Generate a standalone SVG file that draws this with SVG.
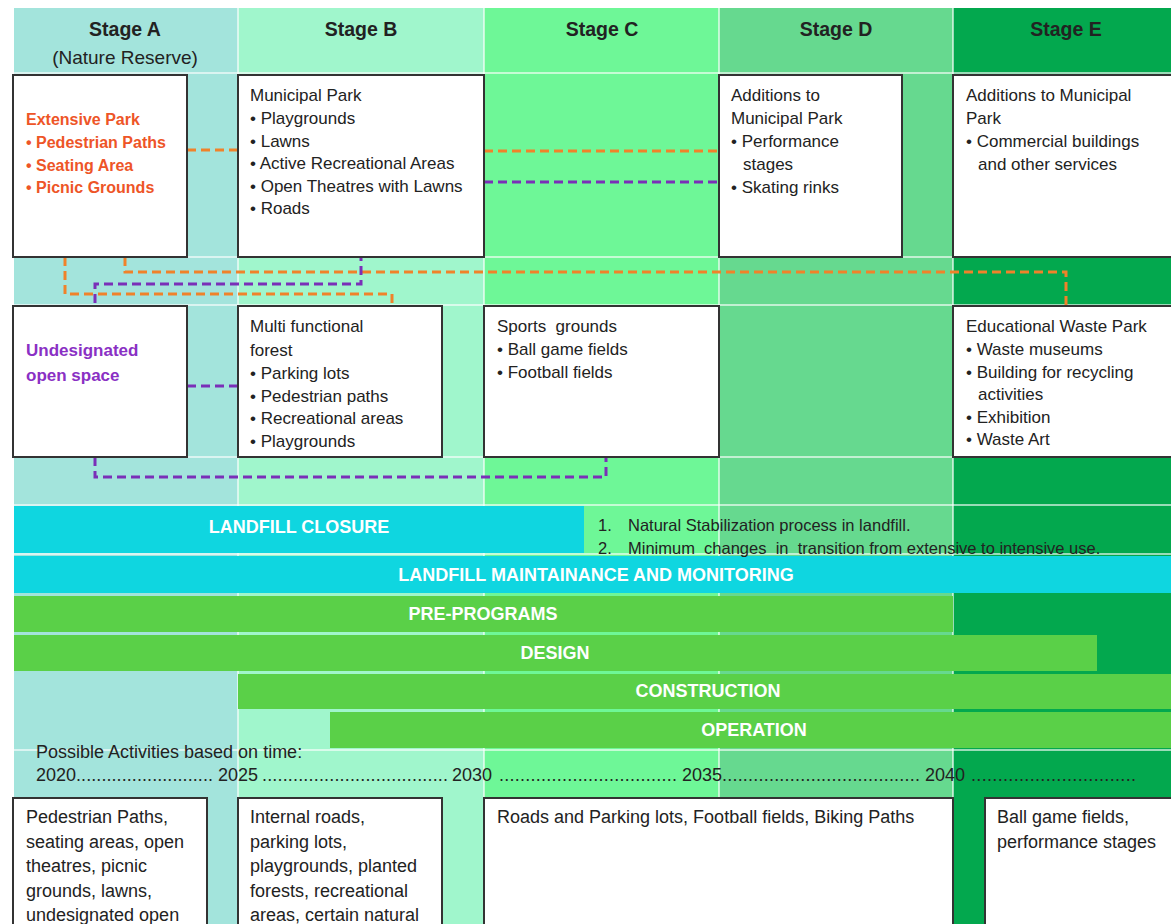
<svg xmlns="http://www.w3.org/2000/svg" width="1171" height="924" viewBox="0 0 1171 924">
<style>
text{font-family:"Liberation Sans",Arial,sans-serif;fill:#222}
.hd{font-size:19.5px;font-weight:bold;text-anchor:middle}
.sub{font-size:19px;text-anchor:middle}
.t{font-size:17px}
.ob{font-size:16px;font-weight:bold;fill:#ee5527}
.pb{font-size:17px;font-weight:bold;fill:#8a30c4}
.bar{font-size:18px;font-weight:bold;fill:#fff;text-anchor:middle}
.note{font-size:16.5px}
.tl{font-size:18px}
.bt{font-size:18px}
.box{fill:#fff;stroke:#333;stroke-width:2}
.sep{stroke:#fff;stroke-opacity:0.6;stroke-width:2}
.or{fill:none;stroke:#f0822a;stroke-width:3;stroke-dasharray:9 5}
.pu{fill:none;stroke:#7a2fb8;stroke-width:3;stroke-dasharray:9 5}
.cy{fill:#0fd6e0}
.gr{fill:#5ad048}
</style>
<rect x="0" y="0" width="1171" height="924" fill="#fff"/>
<g id="columns">
<rect x="14" y="8" width="224" height="916" fill="#a3e4dc"/>
<rect x="238" y="8" width="246" height="916" fill="#a0f6cc"/>
<rect x="484" y="8" width="235" height="916" fill="#6ef797"/>
<rect x="719" y="8" width="234" height="916" fill="#66d98f"/>
<rect x="953" y="8" width="218" height="916" fill="#03a84e"/>
<line class="sep" x1="238" y1="8" x2="238" y2="924"/>
<line class="sep" x1="484" y1="8" x2="484" y2="924"/>
<line class="sep" x1="719" y1="8" x2="719" y2="924"/>
<line class="sep" x1="953" y1="8" x2="953" y2="924"/>
<line class="sep" x1="14" y1="73" x2="1171" y2="73"/>
<line class="sep" x1="14" y1="257" x2="1171" y2="257"/>
<line class="sep" x1="14" y1="305" x2="1171" y2="305"/>
<line class="sep" x1="14" y1="457" x2="1171" y2="457"/>
<line class="sep" x1="14" y1="505" x2="1171" y2="505"/>
<line class="sep" x1="14" y1="554" x2="1171" y2="554"/>
<line class="sep" x1="14" y1="750" x2="1171" y2="750"/>
</g>
<g id="headers">
<text class="hd" x="125" y="36">Stage A</text>
<text class="sub" x="125" y="64">(Nature Reserve)</text>
<text class="hd" x="361" y="36">Stage B</text>
<text class="hd" x="602" y="36">Stage C</text>
<text class="hd" x="836" y="36">Stage D</text>
<text class="hd" x="1066" y="36">Stage E</text>
</g>
<g id="connectors">
<path class="or" d="M187 150H238"/>
<path class="or" d="M484 151H719"/>
<path class="or" d="M65 257V294H392V314"/>
<path class="or" d="M125 257V272H1066V306"/>
<path class="pu" d="M361 252V284H95V306"/>
<path class="pu" d="M484 182H719"/>
<path class="pu" d="M187 386H238"/>
<path class="pu" d="M95 457V477H606V457"/>
</g>
<g id="extensive-park">
<rect class="box" x="13" y="75" width="174" height="182"/>
<text class="ob" x="26" y="125">Extensive Park</text>
<text class="ob" x="26" y="148">• Pedestrian Paths</text>
<text class="ob" x="26" y="171">• Seating Area</text>
<text class="ob" x="26" y="193">• Picnic Grounds</text>
</g>
<g id="municipal-park">
<rect class="box" x="238" y="75" width="246" height="182"/>
<text class="t" x="250" y="101">Municipal Park</text>
<text class="t" x="250" y="124">• Playgrounds</text>
<text class="t" x="250" y="147">• Lawns</text>
<text class="t" x="250" y="169">• Active Recreational Areas</text>
<text class="t" x="250" y="192">• Open Theatres with Lawns</text>
<text class="t" x="250" y="214">• Roads</text>
</g>
<g id="additions-d">
<rect class="box" x="719" y="75" width="183" height="182"/>
<text class="t" x="731" y="101">Additions to</text>
<text class="t" x="731" y="124">Municipal Park</text>
<text class="t" x="731" y="147">• Performance</text>
<text class="t" x="743" y="170">stages</text>
<text class="t" x="731" y="193">• Skating rinks</text>
</g>
<g id="additions-e">
<rect class="box" x="953" y="75" width="220" height="182"/>
<text class="t" x="966" y="101">Additions to Municipal</text>
<text class="t" x="966" y="124">Park</text>
<text class="t" x="966" y="147">• Commercial buildings</text>
<text class="t" x="978" y="170">and other services</text>
</g>
<g id="undesignated">
<rect class="box" x="13" y="306" width="174" height="151"/>
<text class="pb" x="26" y="356">Undesignated</text>
<text class="pb" x="26" y="381">open space</text>
</g>
<g id="multi-forest">
<rect class="box" x="238" y="306" width="204" height="151"/>
<text class="t" x="250" y="332">Multi functional</text>
<text class="t" x="250" y="356">forest</text>
<text class="t" x="250" y="379">• Parking lots</text>
<text class="t" x="250" y="402">• Pedestrian paths</text>
<text class="t" x="250" y="424">• Recreational areas</text>
<text class="t" x="250" y="447">• Playgrounds</text>
</g>
<g id="sports">
<rect class="box" x="484" y="306" width="235" height="151"/>
<text class="t" x="497" y="332" xml:space="preserve">Sports  grounds</text>
<text class="t" x="497" y="355">• Ball game fields</text>
<text class="t" x="497" y="378">• Football fields</text>
</g>
<g id="waste-park">
<rect class="box" x="953" y="306" width="220" height="151"/>
<text class="t" x="966" y="332">Educational Waste Park</text>
<text class="t" x="966" y="355">• Waste museums</text>
<text class="t" x="966" y="378">• Building for recycling</text>
<text class="t" x="978" y="400">activities</text>
<text class="t" x="966" y="423">• Exhibition</text>
<text class="t" x="966" y="445">• Waste Art</text>
</g>
<g id="bars">
<rect class="cy" x="14" y="506" width="570" height="47"/>
<text class="bar" x="299" y="533">LANDFILL CLOSURE</text>
<rect class="cy" x="14" y="556" width="1157" height="37"/>
<text class="bar" x="596" y="581">LANDFILL MAINTAINANCE AND MONITORING</text>
<rect class="gr" x="14" y="596" width="939" height="36"/>
<text class="bar" x="483" y="620">PRE-PROGRAMS</text>
<rect class="gr" x="14" y="635" width="1083" height="36"/>
<text class="bar" x="555" y="659">DESIGN</text>
<rect class="gr" x="238" y="674" width="933" height="35"/>
<text class="bar" x="708" y="697">CONSTRUCTION</text>
<rect class="gr" x="330" y="712" width="841" height="36"/>
<text class="bar" x="754" y="736">OPERATION</text>
</g>
<g id="notes">
<text class="note" x="598" y="531">1.</text>
<text class="note" x="628" y="531">Natural Stabilization process in landfill.</text>
<text class="note" x="598" y="554">2.</text>
<text class="note" x="628" y="554" xml:space="preserve">Minimum  changes  in  transition from extensive to intensive use.</text>
</g>
<g id="timeline">
<text class="tl" x="36" y="758">Possible Activities based on time:</text>
<text class="tl" x="36" y="781">2020</text>
<text class="tl" x="76" y="781" textLength="137" lengthAdjust="spacing">...........................</text>
<text class="tl" x="218" y="781">2025</text>
<text class="tl" x="262" y="781" textLength="186" lengthAdjust="spacing">....................................</text>
<text class="tl" x="452" y="781">2030</text>
<text class="tl" x="499" y="781" textLength="178" lengthAdjust="spacing">..................................</text>
<text class="tl" x="682" y="781">2035</text>
<text class="tl" x="722" y="781" textLength="198" lengthAdjust="spacing">......................................</text>
<text class="tl" x="925" y="781">2040</text>
<text class="tl" x="971" y="781" textLength="165" lengthAdjust="spacing">...............................</text>
</g>
<g id="activities-a">
<rect class="box" x="13" y="798" width="194" height="130"/>
<text class="bt" x="26" y="823">Pedestrian Paths,</text>
<text class="bt" x="26" y="848">seating areas, open</text>
<text class="bt" x="26" y="872">theatres, picnic</text>
<text class="bt" x="26" y="897">grounds, lawns,</text>
<text class="bt" x="26" y="921">undesignated open</text>
</g>
<g id="activities-b">
<rect class="box" x="238" y="798" width="204" height="130"/>
<text class="bt" x="250" y="823">Internal roads,</text>
<text class="bt" x="250" y="848">parking lots,</text>
<text class="bt" x="250" y="872">playgrounds, planted</text>
<text class="bt" x="250" y="897">forests, recreational</text>
<text class="bt" x="250" y="921">areas, certain natural</text>
</g>
<g id="activities-c">
<rect class="box" x="484" y="798" width="469" height="130"/>
<text class="bt" x="497" y="823">Roads and Parking lots, Football fields, Biking Paths</text>
</g>
<g id="activities-e">
<rect class="box" x="985" y="798" width="190" height="130"/>
<text class="bt" x="997" y="823">Ball game fields,</text>
<text class="bt" x="997" y="848">performance stages</text>
</g>
</svg>
